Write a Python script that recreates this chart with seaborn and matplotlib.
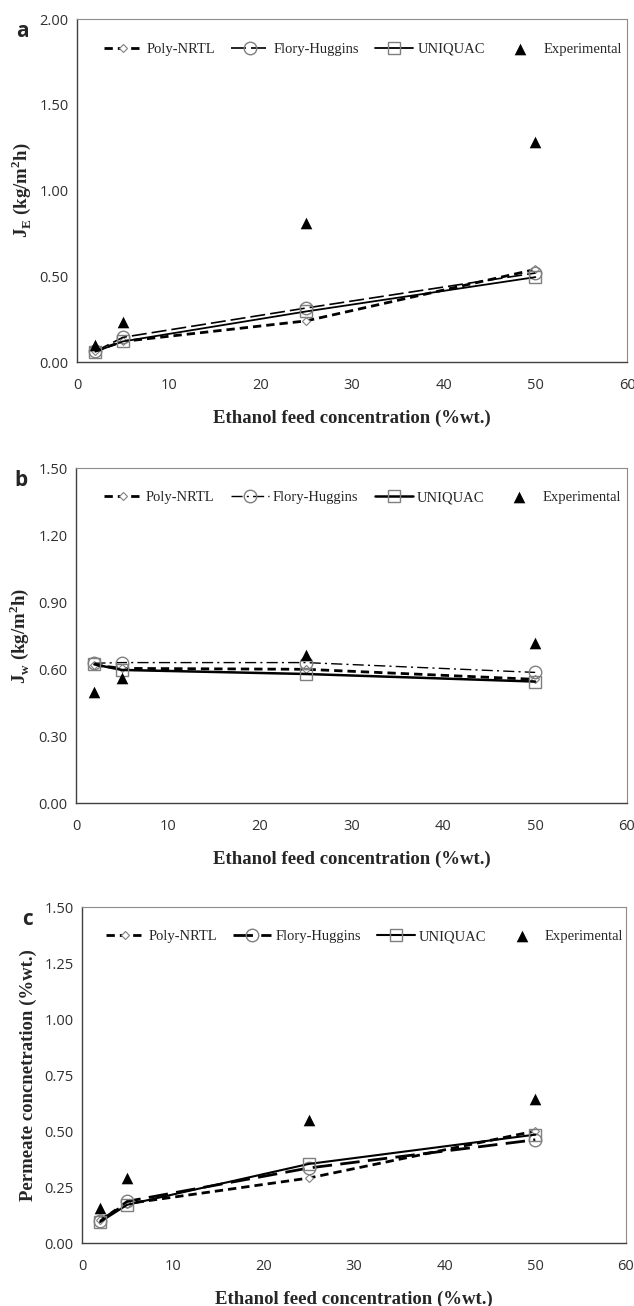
import matplotlib
matplotlib.use("Agg")
import matplotlib.pyplot as plt
import seaborn as sns
import numpy as np

# feed concentrations (%wt.)
x_feed = [2, 5, 25, 50]

# panel a: ethanol flux J_E (kg/m2h)
a_nrtl = [0.065, 0.12, 0.24, 0.54]
a_flory = [0.062, 0.144, 0.315, 0.519]
a_uniquac = [0.06, 0.12, 0.295, 0.495]
a_exp = [0.097, 0.231, 0.81, 1.283]

# panel b: water flux J_W (kg/m2h)
b_nrtl = [0.618, 0.603, 0.599, 0.554]
b_flory = [0.626, 0.629, 0.629, 0.585]
b_uniquac = [0.621, 0.596, 0.578, 0.544]
b_exp = [0.496, 0.562, 0.663, 0.715]

# panel c: permeate concentration
c_nrtl = [0.104, 0.176, 0.29, 0.50]
c_flory = [0.097, 0.186, 0.335, 0.461]
c_uniquac = [0.094, 0.171, 0.353, 0.484]
c_exp = [0.156, 0.29, 0.548, 0.643]

a_yticks = [0.0, 0.5, 1.0, 1.5, 2.0]
b_yticks = [0.0, 0.3, 0.6, 0.9, 1.2, 1.5]
c_yticks = [0.0, 0.25, 0.5, 0.75, 1.0, 1.25, 1.5]
x_ticks = [0, 10, 20, 30, 40, 50, 60]

sns.set_style("white")
plt.rcParams["mathtext.fontset"] = "custom"
plt.rcParams["mathtext.rm"] = "Liberation Serif:bold"
plt.rcParams["mathtext.bf"] = "Liberation Serif:bold"

GREY = "#7f7f7f"
SERIF = "Liberation Serif"

fig = plt.figure(figsize=(6.34, 13.06), dpi=100)

panels = [
    dict(rect=[0.1215, 0.7228, 0.8675, 0.2626], letter="a", ys=(a_nrtl, a_flory, a_uniquac, a_exp),
         yticks=a_yticks, ylim=2.0, ylabel=r"J$_{\mathbf{E}}$ (kg/m$^{\mathbf{2}}$h)",
         flory_ls=(0, (9, 3)), flory_lw=1.2, uni_lw=1.3),
    dict(rect=[0.1199, 0.3851, 0.8690, 0.2565], letter="b", ys=(b_nrtl, b_flory, b_uniquac, b_exp),
         yticks=b_yticks, ylim=1.5, ylabel=r"J$_{\mathbf{w}}$ (kg/m$^{\mathbf{2}}$h)",
         flory_ls=(0, (8, 3, 1.5, 3)), flory_lw=1.0, uni_lw=1.8),
    dict(rect=[0.1293, 0.0482, 0.8580, 0.2573], letter="c", ys=(c_nrtl, c_flory, c_uniquac, c_exp),
         yticks=c_yticks, ylim=1.5, ylabel="Permeate concnetration (%wt.)",
         flory_ls=(0, (7, 3)), flory_lw=2.0, uni_lw=1.5),
]

for p in panels:
    ax = fig.add_axes(p["rect"])
    nrtl, flory, uniq, expv = p["ys"]

    sns.lineplot(x=x_feed, y=nrtl, ax=ax, color="black", lw=2.0, linestyle=(0, (3, 1.8)),
                 marker="D", markersize=4, markerfacecolor="white", markeredgecolor=GREY,
                 markeredgewidth=0.8, label="Poly-NRTL")
    sns.lineplot(x=x_feed, y=flory, ax=ax, color="black", lw=p["flory_lw"], linestyle=p["flory_ls"],
                 marker="o", markersize=9, markerfacecolor="none", markeredgecolor=GREY,
                 markeredgewidth=1.0, label="Flory-Huggins")
    sns.lineplot(x=x_feed, y=uniq, ax=ax, color="black", lw=p["uni_lw"], linestyle="-",
                 marker="s", markersize=8, markerfacecolor="none", markeredgecolor=GREY,
                 markeredgewidth=1.0, label="UNIQUAC")
    sns.scatterplot(x=x_feed, y=expv, ax=ax, color="black", marker="^", s=70,
                    edgecolor="black", linewidth=0, label="Experimental", zorder=5)

    ax.set_xlim(0, 60)
    ax.set_ylim(0, p["ylim"])
    ax.set_xticks(x_ticks)
    ax.set_yticks(p["yticks"])
    ax.set_yticklabels([f"{v:.2f}" for v in p["yticks"]])
    ax.tick_params(axis="x", direction="inout", length=7, width=1, color="#404040",
                   labelsize=10.5, labelcolor="#303030", pad=8)
    ax.tick_params(axis="y", direction="in", length=4, width=1, color="#404040",
                   labelsize=10.5, labelcolor="#303030", pad=6)
    for lab in ax.get_xticklabels() + ax.get_yticklabels():
        lab.set_family("Open Sans")

    for side in ["top", "right"]:
        ax.spines[side].set_color("#8c8c8c")
        ax.spines[side].set_linewidth(0.8)
    for side in ["left", "bottom"]:
        ax.spines[side].set_color("#404040")
        ax.spines[side].set_linewidth(1.0)

    ax.set_xlabel("Ethanol feed concentration (%wt.)", family=SERIF, weight="bold",
                  fontsize=13.5, labelpad=12)
    ax.set_ylabel(p["ylabel"], family=SERIF, weight="bold", fontsize=13.5, labelpad=5)

    ax.legend(loc="center", bbox_to_anchor=(0.52, 0.912), ncol=4, frameon=False,
              prop={"family": SERIF, "size": 10.5}, handlelength=2.6, columnspacing=1.1,
              handletextpad=0.3, borderaxespad=0)

    ax.text(-0.1, 0.995, p["letter"], transform=ax.transAxes, fontsize=15, weight="bold",
            family="Open Sans", ha="center", va="top")

fig.savefig("out.png", dpi=100)
